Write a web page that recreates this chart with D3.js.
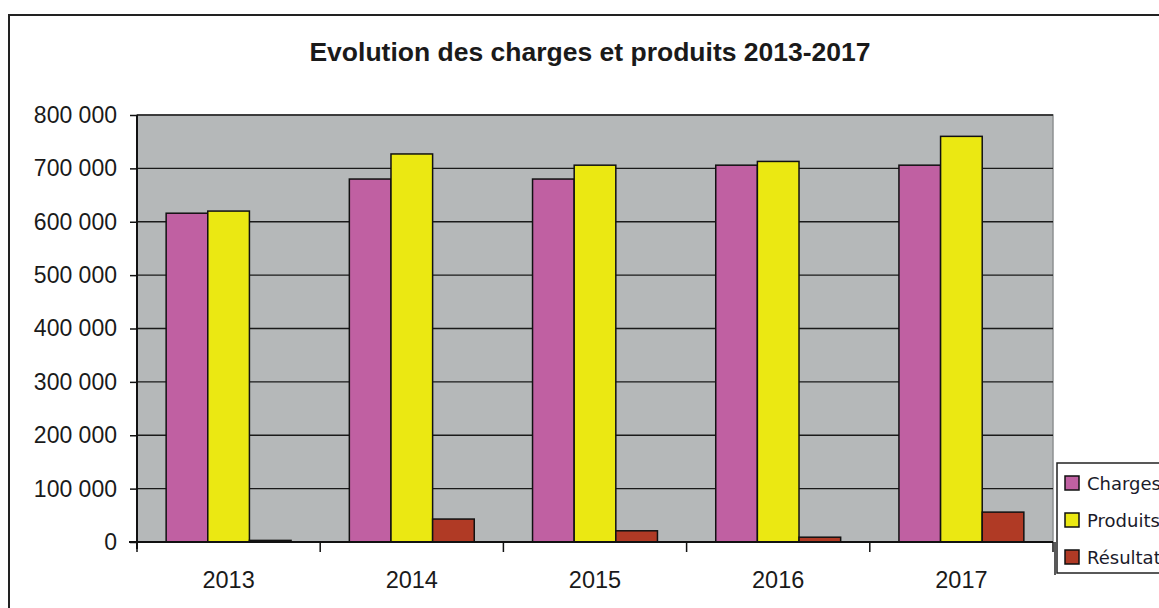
<!DOCTYPE html>
<html><head><meta charset="utf-8">
<script src="https://cdn.jsdelivr.net/npm/d3@7"></script>
<style>body{margin:0;background:#fff;overflow:hidden}svg{display:block}</style>
</head><body>
<svg id="c" width="1159" height="608"></svg>
<script>
const years = ["2013","2014","2015","2016","2017"];
const seriesNames = ["Charges","Produits","Résultat"];
const charges = [616000, 680000, 680000, 706000, 706000];
const produits = [620000, 727000, 706000, 713000, 760000];
const resultat = [3000, 43000, 21000, 9000, 56000];
const yTicks = [0,100000,200000,300000,400000,500000,600000,700000,800000];
const colors = ["#c060a2","#ebe812","#b03a25"];
const values = [charges, produits, resultat];

const svg = d3.select("#c");
const m = {l:137, r:1053, t:115, b:542};

// outer frame
svg.append("path").attr("d","M9,608 V15 H1159").attr("fill","none").attr("stroke","#222").attr("stroke-width",2);

svg.append("text").attr("x",590).attr("y",61).attr("text-anchor","middle")
  .attr("font-family","Liberation Sans, Arial, sans-serif").attr("font-weight","bold")
  .attr("font-size",26.5).attr("fill","#1a1a1a").text("Evolution des charges et produits 2013-2017");

const x = d3.scaleBand().domain(years).range([m.l,m.r]).paddingInner(0).paddingOuter(0);
const xi = d3.scaleBand().domain(seriesNames).range([0,x.bandwidth()]).paddingInner(0).paddingOuter(0.7);
const y = d3.scaleLinear().domain([0,800000]).range([m.b,m.t]);

// plot area
svg.append("rect").attr("x",m.l).attr("y",m.t).attr("width",m.r-m.l).attr("height",m.b-m.t)
  .attr("fill","#b5b8b9").attr("stroke","#8e9192").attr("stroke-width",1.5);

// gridlines
svg.append("g").selectAll("line").data(yTicks.filter(d=>d>0)).join("line")
  .attr("x1",m.l).attr("x2",m.r).attr("y1",d=>y(d)).attr("y2",d=>y(d))
  .attr("stroke","#1a1a1a").attr("stroke-width",1.3);

// bars
const g = svg.append("g");
seriesNames.forEach((s,si)=>{
  g.selectAll(".b"+si).data(years).join("rect")
    .attr("x",d=>x(d)+xi(s)).attr("width",xi.bandwidth())
    .attr("y",(d,i)=>y(values[si][i])).attr("height",(d,i)=>y(0)-y(values[si][i]))
    .attr("fill",colors[si]).attr("stroke","#111").attr("stroke-width",1.5);
});

// y axis
const yAxis = d3.axisLeft(y).tickValues(yTicks).tickSize(7).tickPadding(13)
  .tickFormat(d=>d3.format(",")(d).replace(/,/g," "));
const ya = svg.append("g").attr("transform",`translate(${m.l},0)`).call(yAxis);
ya.select(".domain").attr("d",`M0,${m.t}V${m.b+7}`).attr("stroke","#111").attr("stroke-width",2);
ya.selectAll(".tick line").attr("stroke","#111").attr("stroke-width",1.5);
ya.selectAll("text").attr("font-family","Liberation Sans, Arial, sans-serif").attr("font-size",23).attr("fill","#1a1a1a");

// x axis
const xa = svg.append("g").attr("transform",`translate(0,${m.b})`);
xa.append("line").attr("x1",m.l-8).attr("x2",m.r).attr("y1",0).attr("y2",0).attr("stroke","#111").attr("stroke-width",2);
const xTickPos = years.map(d=>x(d)).concat([m.r]);
xa.selectAll(".xt").data(xTickPos).join("line").attr("x1",d=>d).attr("x2",d=>d).attr("y1",0).attr("y2",10)
  .attr("stroke","#111").attr("stroke-width",1.5);
xa.selectAll(".xl").data(years).join("text").attr("x",d=>x(d)+x.bandwidth()/2).attr("y",46)
  .attr("text-anchor","middle").attr("font-family","Liberation Sans, Arial, sans-serif").attr("font-size",23.5).attr("fill","#1a1a1a").text(d=>d);

// legend
const lg = svg.append("g");
lg.append("rect").attr("x",1057).attr("y",463).attr("width",120).attr("height",110)
  .attr("fill","#fff").attr("stroke","#222").attr("stroke-width",1.5);
lg.append("line").attr("x1",1055).attr("x2",1055).attr("y1",542).attr("y2",575).attr("stroke","#222").attr("stroke-width",1.5);
seriesNames.forEach((s,i)=>{
  const cy = 483 + i*37;
  lg.append("rect").attr("x",1065).attr("y",cy-7).attr("width",14).attr("height",14)
    .attr("fill",colors[i]).attr("stroke","#111").attr("stroke-width",1.5);
  lg.append("text").attr("x",1087).attr("y",cy+6.5).attr("font-family","DejaVu Sans, sans-serif")
    .attr("font-size",18).attr("fill","#1a1a2a").text(s);
});
</script>
</body></html>
